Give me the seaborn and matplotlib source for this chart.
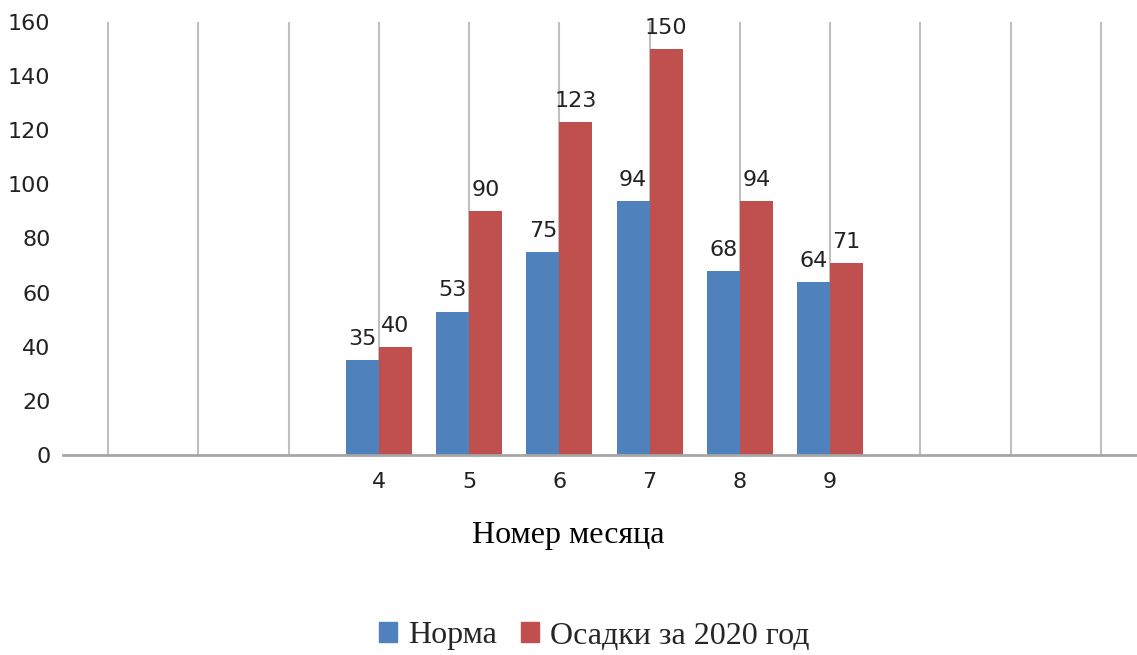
"""Monthly precipitation: climate norm vs. 2020, grouped bars."""
import matplotlib
matplotlib.use("Agg")
import matplotlib.pyplot as plt
import numpy as np
import pandas as pd
import seaborn as sns

MONTHS = [str(m) for m in range(1, 13)]
SHOWN_MONTHS = ["4", "5", "6", "7", "8", "9"]
NORM = [35, 53, 75, 94, 68, 64]
RAIN_2020 = [40, 90, 123, 150, 94, 71]
SERIES = ["Норма", "Осадки за 2020 год"]
COLORS = ["#4F81BD", "#C0504D"]
Y_TICKS = list(range(0, 161, 20))


def build_frame() -> pd.DataFrame:
    rows = []
    for m, v in zip(SHOWN_MONTHS, NORM):
        rows.append({"month": m, "series": SERIES[0], "value": v})
    for m, v in zip(SHOWN_MONTHS, RAIN_2020):
        rows.append({"month": m, "series": SERIES[1], "value": v})
    return pd.DataFrame(rows)


def main() -> None:
    sns.set_theme(style="white")
    plt.rcParams["font.family"] = ["DejaVu Sans"]

    df = build_frame()
    fig = plt.figure(figsize=(11.37, 6.55), dpi=100)
    ax = fig.add_axes([63 / 1137, 200 / 655, 1083 / 1137, 433 / 655])

    sns.barplot(data=df, x="month", y="value", hue="series", order=MONTHS,
                hue_order=SERIES, palette=COLORS, width=0.73, saturation=1,
                linewidth=0, ax=ax, legend=False)

    for cont in ax.containers:
        ax.bar_label(cont, fmt="%d", padding=8, fontsize=16, color="#222222")

    ax.set_xlim(-0.5, len(MONTHS) - 0.5)
    ax.set_ylim(0, 160)
    ax.set_yticks(Y_TICKS)
    ax.set_xticks(np.arange(len(MONTHS)))
    ax.set_xticklabels([m if m in SHOWN_MONTHS else "" for m in MONTHS])
    ax.tick_params(axis="both", length=0, labelsize=16, colors="#222222")
    ax.tick_params(axis="x", pad=12)
    ax.tick_params(axis="y", pad=9)

    ax.set_axisbelow(True)
    ax.xaxis.grid(True, color="#BFBFBF", linewidth=1.5)
    ax.yaxis.grid(False)
    for side in ["left", "right", "top"]:
        ax.spines[side].set_visible(False)
    ax.spines["bottom"].set_color("#A6A6A6")
    ax.spines["bottom"].set_linewidth(2)

    ax.set_xlabel("")
    ax.set_ylabel("")
    fig.text(0.5, 120 / 655, "Номер месяца", ha="center", va="center",
             fontsize=23, family=["Liberation Serif"], color="black")

    handles = [plt.Rectangle((0, 0), 1, 1, color=c) for c in COLORS]
    fig.legend(handles, SERIES, loc="center", bbox_to_anchor=(594 / 1137, 19 / 655),
               ncol=2, frameon=False, prop={"family": "Liberation Serif", "size": 23},
               handlelength=0.56, handleheight=0.56, handletextpad=0.35,
               columnspacing=0.75)

    fig.savefig("out.png", dpi=100)


if __name__ == "__main__":
    main()
